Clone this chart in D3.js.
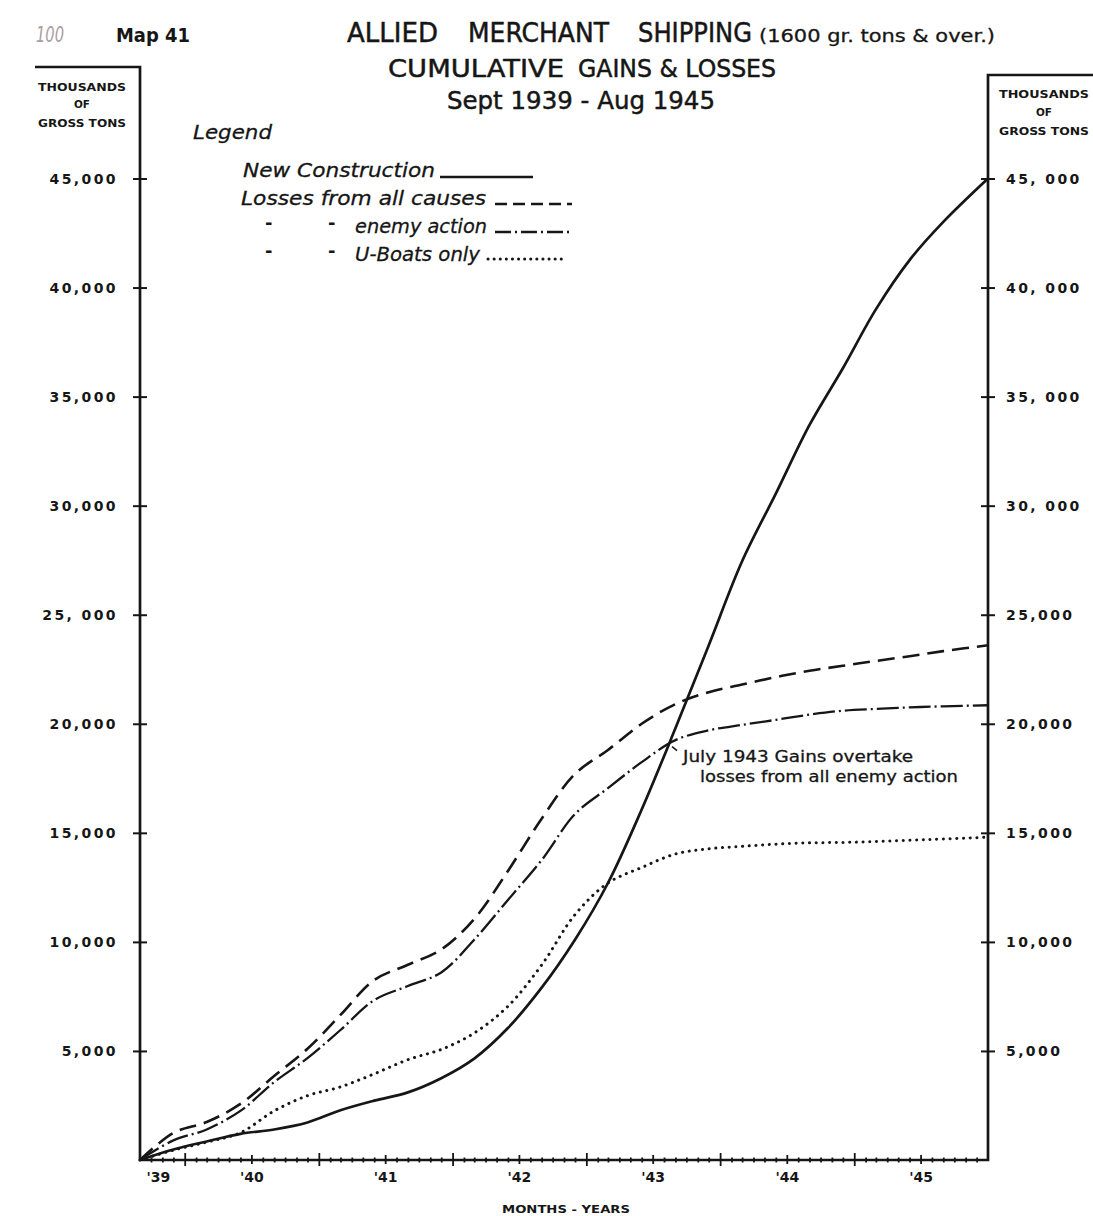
<!DOCTYPE html>
<html>
<head>
<meta charset="utf-8">
<script src="https://cdn.jsdelivr.net/npm/d3@7"></script>
<style>
  body { margin: 0; background: #fff; }
  svg { display: block; }
</style>
</head>
<body>
<svg id="chart" width="1093" height="1216"></svg>
<script>
// ---- Data: cumulative thousands of gross tons, quarterly readings ----
const months = ["1939-09","1939-12","1940-03","1940-06","1940-09","1940-12",
  "1941-03","1941-06","1941-09","1941-12","1942-03","1942-06","1942-09","1942-12",
  "1943-03","1943-06","1943-09","1943-12","1944-03","1944-06","1944-09","1944-12",
  "1945-03","1945-06","1945-09","1946-01"];

const newConstruction = [0,480,850,1200,1400,1720,2280,2720,3100,3750,4650,6050,7900,10100,
  12700,16070,19790,23600,27450,30550,33700,36300,39000,41260,43010,45000];

const lossesAllCauses = [0,1240,1740,2570,3850,5100,6650,8250,8950,9650,11050,13250,15650,17700,
  18800,20000,20900,21450,21800,22140,22430,22660,22880,23100,23330,23600];

const lossesEnemyAction = [0,900,1400,2250,3570,4670,5960,7330,7975,8600,10100,11920,13750,15860,
  17050,18240,19250,19700,19950,20180,20420,20600,20680,20750,20800,20850];

const lossesUBoats = [0,450,820,1250,2250,2950,3350,3950,4600,5070,5820,7050,8940,11250,
  12700,13410,14030,14270,14380,14480,14540,14560,14600,14660,14720,14800];

const yTickValues = [5000,10000,15000,20000,25000,30000,35000,40000,45000];
const yTickLabelsLeft  = ["5,000","10,000","15,000","20,000","25, 000","30,000","35,000","40,000","45,000"];
const yTickLabelsRight = ["5,000","10,000","15,000","20,000","25,000","30, 000","35, 000","40, 000","45, 000"];

const yearLabelDates = ["1939-10-20","1940-07-01","1941-07-01","1942-07-01","1943-07-01","1944-07-01","1945-07-01"];
const yearLabels = ["'39","'40","'41","'42","'43","'44","'45"];

const seriesNames = ["New Construction","Losses from all causes","enemy action","U-Boats only"];
const seriesValues = [newConstruction, lossesAllCauses, lossesEnemyAction, lossesUBoats];

// ---- Setup ----
const svg = d3.select("#chart");
const INK = "#161616";
const LETTER = "'DejaVu Sans', 'Liberation Sans', sans-serif";

const parseMonth = d3.timeParse("%Y-%m");
const parseDay = d3.timeParse("%Y-%m-%d");
const dates = months.map(parseMonth);

const x = d3.scaleTime()
  .domain([parseMonth("1939-09"), parseMonth("1946-01")])
  .range([140, 988]);
const y = d3.scaleLinear().domain([0, 45000]).range([1160, 178.5]);

// stroke styles for the four curves
const styles = [
  { width: 2.7, dash: null, cap: "butt", sample: null },
  { width: 2.6, dash: "17,8", cap: "butt", sample: "12,6" },
  { width: 2.3, dash: "22,4,2,4", cap: "butt", sample: "16,4,2,4" },
  { width: 3.0, dash: "0.1,6.6", cap: "round", sample: "0.1,6" }
];

function txt(g, s, px, py, o = {}) {
  const t = g.append("text")
    .attr("x", px).attr("y", py)
    .attr("fill", o.fill || INK)
    .style("font-family", o.family || LETTER)
    .style("font-size", (o.size || 14) + "px")
    .style("font-weight", o.weight || "normal")
    .style("font-style", o.italic ? "italic" : "normal")
    .attr("text-anchor", o.anchor || "start")
    .text(s);
  if (o.width) t.attr("textLength", o.width).attr("lengthAdjust", "spacingAndGlyphs");
  if (o.stroke) t.attr("stroke", o.fill || INK).attr("stroke-width", o.stroke);
  return t;
}

// ---- Frame ----
const frame = svg.append("g").attr("stroke", INK).attr("stroke-width", 2.7).attr("fill", "none");
frame.append("path").attr("d", "M35,67 H140 V1160 H988 V75 H1093");

// ---- Axes ----
const leftAxis = svg.append("g").attr("transform", "translate(140,0)")
  .call(d3.axisLeft(y).tickValues(yTickValues)
    .tickFormat((d, i) => yTickLabelsLeft[i]).tickSize(7).tickPadding(15));
const rightAxis = svg.append("g").attr("transform", "translate(988,0)")
  .call(d3.axisRight(y).tickValues(yTickValues)
    .tickFormat((d, i) => yTickLabelsRight[i]).tickSize(7).tickPadding(11));
[leftAxis, rightAxis].forEach((g, k) => {
  g.select(".domain").remove();
  g.selectAll(".tick line").attr("stroke", INK).attr("stroke-width", 2)
    .attr("x1", k === 0 ? 7 : -7);
  g.selectAll(".tick text").attr("fill", INK)
    .style("font-family", LETTER).style("font-size", "14px").style("font-weight", "bold")
    .style("letter-spacing", "2.4px").attr("dy", "0.36em");
});

const monthTicks = d3.timeMonth.range(parseMonth("1939-10"), parseMonth("1946-01"));
const bottomTicks = svg.append("g").attr("transform", "translate(0,1160)")
  .call(d3.axisBottom(x).tickValues(monthTicks).tickFormat("").tickSize(0));
bottomTicks.select(".domain").remove();
bottomTicks.selectAll(".tick line")
  .attr("stroke", INK).attr("stroke-width", 1.8)
  .attr("y1", d => d.getMonth() === 0 ? -7 : d.getMonth() === 6 ? -5 : -2.5)
  .attr("y2", d => d.getMonth() === 0 ? 6 : d.getMonth() === 6 ? 4 : 2.5);

const yearAxis = svg.append("g").attr("transform", "translate(0,1160)")
  .call(d3.axisBottom(x).tickValues(yearLabelDates.map(parseDay))
    .tickFormat((d, i) => yearLabels[i]).tickSize(0).tickPadding(12));
yearAxis.select(".domain").remove();
yearAxis.selectAll(".tick text").attr("fill", INK)
  .style("font-family", LETTER).style("font-size", "14px").style("font-weight", "bold");

// ---- Curves ----
const line = d3.line()
  .x((d, i) => x(dates[i]))
  .y(d => y(d))
  .curve(d3.curveCatmullRom.alpha(0.5));

const curves = svg.append("g").attr("fill", "none");
seriesValues.forEach((vals, k) => {
  const st = styles[k];
  curves.append("path")
    .attr("d", line(vals))
    .attr("stroke", INK)
    .attr("stroke-width", st.width)
    .attr("stroke-linecap", st.cap)
    .attr("stroke-dasharray", st.dash);
});

// ---- Titles ----
const T = svg.append("g");
txt(T, "100", 36, 42, { size: 21, italic: true, fill: "#a99ca3", width: 28 });
txt(T, "Map 41", 116, 42, { size: 20, weight: "bold", width: 74 });
txt(T, "ALLIED", 347, 42, { size: 27, width: 91, stroke: 0.5 });
txt(T, "MERCHANT", 468, 42, { size: 27, width: 141, stroke: 0.5 });
txt(T, "SHIPPING", 638, 42, { size: 27, width: 114, stroke: 0.5 });
txt(T, "(1600 gr. tons & over.)", 759, 42, { size: 17, width: 236, stroke: 0.3 });
txt(T, "CUMULATIVE", 388, 77, { size: 25, width: 176, stroke: 0.5 });
txt(T, "GAINS & LOSSES", 578, 77, { size: 25, width: 198, stroke: 0.5 });
txt(T, "Sept 1939 - Aug 1945", 447, 109, { size: 25, width: 268, stroke: 0.5 });

// axis unit headers
txt(T, "THOUSANDS", 82, 91, { size: 11, weight: "bold", anchor: "middle", width: 88 });
txt(T, "OF", 82, 108, { size: 11, weight: "bold", anchor: "middle", width: 16 });
txt(T, "GROSS TONS", 82, 127, { size: 11, weight: "bold", anchor: "middle", width: 88 });
txt(T, "THOUSANDS", 1044, 98, { size: 11, weight: "bold", anchor: "middle", width: 90 });
txt(T, "OF", 1044, 116, { size: 11, weight: "bold", anchor: "middle", width: 16 });
txt(T, "GROSS TONS", 1044, 135, { size: 11, weight: "bold", anchor: "middle", width: 90 });

txt(T, "MONTHS - YEARS", 502, 1213, { size: 11, weight: "bold", width: 128 });

// ---- Legend ----
const L = svg.append("g");
txt(L, "Legend", 193, 139, { size: 20, italic: true, width: 79, stroke: 0.3 });
const legendRows = [
  { ty: 177, tx: 243, tw: 192, x1: 440, x2: 533, ly: 177, ditto: false },
  { ty: 205, tx: 241, tw: 245, x1: 495, x2: 572, ly: 204, ditto: false },
  { ty: 233, tx: 355, tw: 132, x1: 495, x2: 573, ly: 232, ditto: true },
  { ty: 261, tx: 355, tw: 125, x1: 488, x2: 567, ly: 259, ditto: true }
];
legendRows.forEach((r, k) => {
  txt(L, seriesNames[k], r.tx, r.ty, { size: 19, italic: true, width: r.tw, stroke: 0.3 });
  if (r.ditto) {
    txt(L, "-", 265, r.ty - 4, { size: 18, weight: "bold" });
    txt(L, "-", 328, r.ty - 4, { size: 18, weight: "bold" });
  }
  const st = styles[k];
  L.append("line")
    .attr("x1", r.x1).attr("x2", r.x2).attr("y1", r.ly).attr("y2", r.ly)
    .attr("stroke", INK).attr("stroke-width", st.width)
    .attr("stroke-linecap", st.cap)
    .attr("stroke-dasharray", st.sample);
});

// ---- Annotation at the July 1943 crossing ----
const cx = x(parseMonth("1943-08")), cy = y(19000);
const A = svg.append("g");
A.append("line").attr("x1", cx + 8).attr("y1", cy + 1).attr("x2", cx + 13).attr("y2", cy + 5)
  .attr("stroke", INK).attr("stroke-width", 1.5);
txt(A, "July 1943 Gains overtake", cx + 19, cy + 16, { size: 16, width: 230, stroke: 0.3 });
txt(A, "losses from all enemy action", cx + 36, cy + 36, { size: 16, width: 258, stroke: 0.3 });
</script>
</body>
</html>
